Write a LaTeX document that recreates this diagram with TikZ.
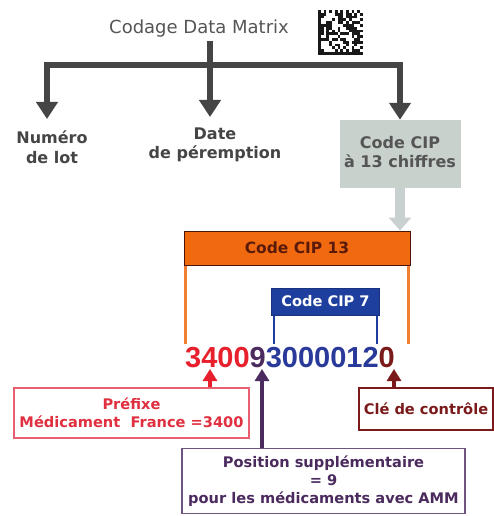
\documentclass[tikz,border=0pt]{standalone}
\usepackage{fontspec}
\setmainfont{DejaVu Sans}
\newfontfamily\numfont{Liberation Sans}
\usetikzlibrary{arrows.meta}
\definecolor{dgray}{HTML}{454545}
\definecolor{tgray}{HTML}{555555}
\definecolor{boxgray}{HTML}{C9D1CD}
\definecolor{lgray}{HTML}{C8D0D0}
\definecolor{orng}{HTML}{F26A10}
\definecolor{orngline}{HTML}{F28030}
\definecolor{brwn}{HTML}{5A1A0A}
\definecolor{cipblue}{HTML}{1F3F9F}
\definecolor{digblue}{HTML}{2A3A9A}
\definecolor{digred}{HTML}{E8202E}
\definecolor{boxred}{HTML}{E86070}
\definecolor{txtred}{HTML}{E03040}
\definecolor{purp}{HTML}{4B2A5E}
\definecolor{dred}{HTML}{7B1A1A}
\tikzset{
  mainarrow/.style={draw=dgray, line width=6pt, -{Triangle[width=21pt,length=17pt]}},
  mainline/.style={draw=dgray, line width=6pt},
  smallarrow/.style={line width=4pt, -{Triangle[width=14pt,length=12pt]}},
  lbl/.style={font=\bfseries\fontsize{16}{19.5}\selectfont, text=dgray, align=center, inner sep=0pt},
  infobox/.style={draw, line width=1.2pt, fill=white, align=center, font=\bfseries\fontsize{14.6}{18}\selectfont, inner sep=0pt}
}
\begin{document}
\begin{tikzpicture}[x=1pt,y=-1pt]
\useasboundingbox (0,0) rectangle (493,516);
% title
\node[text=tgray, font=\fontsize{18}{20}\selectfont, inner sep=0pt, anchor=base] (title) at (199,34) {Codage Data Matrix};
% data matrix
\pgfmathsetseed{11}
\begin{scope}[shift={(318,10)}]
  \foreach \i in {0,...,15}{
    \foreach \j in {0,...,15}{
      \pgfmathsetmacro{\r}{rnd}
      \pgfmathsetmacro{\blk}{ (\i==0) || (\j==15) || (\j==0 && mod(\i,2)==0) || (\i==15 && mod(\j,2)==1) || (\i>0 && \i<15 && \j>0 && \j<15 && \r>0.5) ? 1 : 0}
      \ifdim\blk pt>0.5pt
        \fill[black!90] (\i*2.8,\j*2.8) rectangle ++(2.8,2.8);
      \fi
    }
  }
\end{scope}
% tree
\coordinate (j) at (210,65);
\coordinate (bl) at (44,65);
\coordinate (br) at (403,65);
\coordinate (al) at (47,65);
\coordinate (ar) at (400,65);
\coordinate (ts) at (210,41);
\draw[mainline] (ts) -- (j);
\draw[mainline] (bl) -- (br);
\node[lbl] (numero) at (52,147) {Numéro\\de lot};
\node[lbl] (date) at (215,145) {Date\\de péremption};
\node[fill=boxgray, minimum width=121pt, minimum height=68pt, inner sep=0pt] (cipbox) at (400.5,154) {};
\node[lbl, text=tgray] (ciptxt) at (400,152) {Code CIP\\à 13 chiffres};
\draw[mainarrow] (al) -- (47,119) coordinate (numtop);
\draw[mainarrow] (j) -- (210,117) coordinate (datetop);
\draw[mainarrow] (ar) -- (cipbox.north -| ar);
% CIP 13 header
\node[draw=brwn!80!black, line width=1pt, fill=orng, minimum width=226pt, minimum height=34pt, inner sep=0pt, font=\bfseries\fontsize{15.5}{17}\selectfont, text=brwn] (cip13) at (297,248) {Code CIP 13};
\draw[draw=lgray, line width=10pt, -{Triangle[width=22pt,length=13pt]}] (cipbox.south -| ar) -- (cip13.north -| ar);
% orange brackets
\draw[orngline, line width=3pt] ([xshift=2pt]cip13.south west) -- ++(0,78);
\draw[orngline, line width=3pt] ([xshift=-2pt]cip13.south east) -- ++(0,78);
% CIP 7
\node[draw=cipblue!80!black, line width=1pt, fill=cipblue, minimum width=108pt, minimum height=27pt, inner sep=0pt, font=\bfseries\fontsize{14.6}{16}\selectfont, text=white] (cip7) at (325.5,301.5) {Code CIP 7};
\draw[cipblue, line width=2.5pt] ([xshift=3pt]cip7.south west) -- ++(0,28);
\draw[cipblue, line width=2.5pt] ([xshift=-3pt]cip7.south east) -- ++(0,28);
% number
\node[inner sep=0pt, anchor=base west, font=\numfont\bfseries\fontsize{29}{30}\selectfont] (num) at (185,367)
  {\color{digred}3400\color{purp}9\color{digblue}3000012\color{dred}0};
\coordinate (nred) at (210,369);
\coordinate (npur) at (262,369);
\coordinate (ndred) at (394,369);
% boxes
\node[infobox, draw=boxred, text=txtred, minimum width=235pt, minimum height=50pt] (pref) at (131.5,413) {Préfixe\\Médicament\ \ France =3400};
\node[infobox, draw=purp!80, text=purp, minimum width=283pt, minimum height=65pt] (pos) at (323.5,481) {Position supplémentaire\\= 9\\pour les médicaments avec AMM};
\node[infobox, draw=dred, text=dred, minimum width=134pt, minimum height=42pt] (cle) at (426,409) {Clé de contrôle};
\draw[smallarrow, digred] (pref.north -| nred) -- (nred);
\draw[smallarrow, purp] (pos.north -| npur) -- (npur);
\draw[smallarrow, dred] (cle.north -| ndred) -- (ndred);
\end{tikzpicture}
\end{document}
